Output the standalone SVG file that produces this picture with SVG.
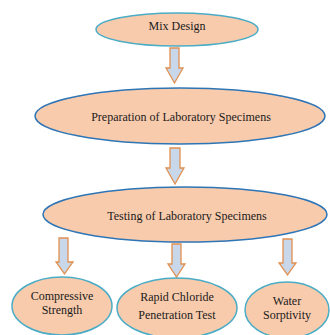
<svg xmlns="http://www.w3.org/2000/svg" width="330" height="335" viewBox="0 0 330 335">
<style>
.n{fill:#F8CBAD;stroke:#4BACC6;stroke-width:1.5}
.b{fill:#F8CBAD;stroke:#2E75B6;stroke-width:1.5}
.a{fill:#C9D7EA;stroke:#E2904F;stroke-width:1.3;stroke-linejoin:miter}
text{font-family:"Liberation Serif","Times New Roman",serif;font-size:12px;fill:#1a1a1a;text-anchor:middle}
</style>
<rect width="330" height="335" fill="#fff"/>
<g id="connectors">
<path class="a" d="M170,48 H179 V68 H183 L174.5,83 L166,68 H170 Z"/>
<path class="a" d="M170,148 H180 V168 H184 L175,184 L166,168 H170 Z"/>
<path class="a" d="M59,238 H68 V262 H73 L64.5,274 L56,262 H59 Z"/>
<path class="a" d="M172,244 H181 V264 H185 L176.5,277 L168,264 H172 Z"/>
<path class="a" d="M283,239 H292 V263 H296 L287.5,275 L279,263 H283 Z"/>
</g>
<g id="mix"><ellipse class="n" cx="177" cy="29.5" rx="81" ry="16.5"/><text x="177" y="30">Mix Design</text></g>
<g id="prep"><ellipse class="b" cx="180" cy="116" rx="145" ry="28"/><text x="181" y="121">Preparation of Laboratory Specimens</text></g>
<g id="test"><ellipse class="b" cx="185" cy="214.5" rx="142" ry="27.5"/><text x="187" y="220">Testing of Laboratory Specimens</text></g>
<g id="comp"><ellipse class="n" cx="62" cy="306" rx="50" ry="29"/><text x="62" y="300">Compressive</text><text x="62" y="314">Strength</text></g>
<g id="rcpt"><ellipse class="n" cx="177" cy="308" rx="60" ry="30"/><text x="177" y="301">Rapid Chloride</text><text x="177" y="319">Penetration Test</text></g>
<g id="water"><ellipse class="n" cx="287" cy="310" rx="42" ry="28"/><text x="287" y="305">Water</text><text x="287" y="319">Sorptivity</text></g>
</svg>
